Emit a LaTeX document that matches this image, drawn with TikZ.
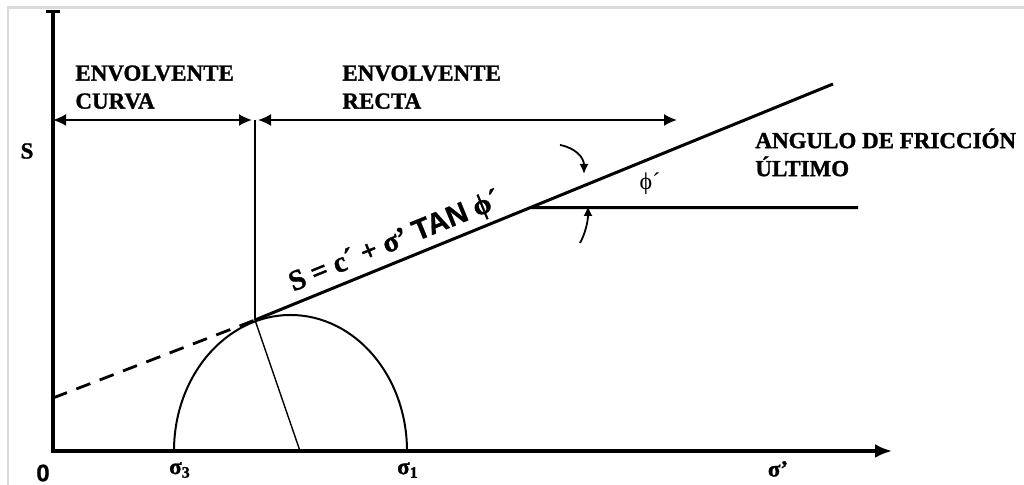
\documentclass[tikz,border=0pt]{standalone}
\usepackage{fontspec}
\setmainfont{Liberation Serif}[BoldFeatures={FakeBold=1.2}]
\setsansfont{Liberation Sans}[BoldFeatures={FakeBold=0.8}]
\usetikzlibrary{arrows.meta,positioning,calc}
\definecolor{FrameGrey}{RGB}{218,218,218}

\begin{document}
\begin{tikzpicture}[x=0.5pt,y=-0.5pt,
    lbl/.style={font=\fontsize{11.5}{14}\selectfont\bfseries,align=left,inner sep=0pt},
    axis/.style={line width=1.6pt},
    dim/.style={{Latex[length=6.5pt,width=6pt]}-{Latex[length=6.5pt,width=6pt]},line width=1pt},
    curvarr/.style={-{Latex[length=5pt,width=4.5pt]},line width=0.9pt}
  ]
  \useasboundingbox (0,0) rectangle (1024,485);
  \draw[FrameGrey,line width=1.2pt] (8,485) -- (8,7.5) -- (1024,7.5);
  % axes
  \coordinate (O) at (53,451);
  \coordinate (ytop) at (53,10);
  \coordinate (xend) at (892,451);
  \draw[axis,{Bar[width=7pt]}-{Latex[length=8.5pt,width=7pt]}] (ytop) -- (O) -- (xend);
  \node[lbl,font=\fontsize{12}{14}\selectfont\bfseries\sffamily] (zero) at (43,473) {0};
  \node[lbl] (s) at (27,151) {S};
  \node[lbl] (sg) at (778,469) {σ’};
  % Mohr circle
  \coordinate (s3) at (174,451);
  \coordinate (s1) at (407,451);
  \coordinate (T) at (255,320);
  \coordinate (rb) at (300,451);
  \draw[line width=1pt] (s3) arc[start angle=180,end angle=360,x radius=116.5,y radius=136];
  \draw[line width=0.7pt] (T) -- (rb);
  \node[lbl] (ls3) at (180,470) {σ\textsubscript{3}};
  \node[lbl] (ls1) at (408,470) {σ\textsubscript{1}};
  % envelope
  \coordinate (c0) at (53,398);
  \coordinate (Lend) at (833,84);
  \draw[line width=1.4pt,dash pattern=on 7.5pt off 5pt] (c0) -- (T);
  \draw[line width=1.5pt] (T) -- node[pos=0.255,sloped,above=2pt,inner sep=0pt,
      font=\fontsize{14.5}{16}\selectfont\bfseries] (eq)
      {S = c´ + σ’ \textsf{TAN} ϕ´} (Lend);
  \coordinate (hL) at ($(T)!0.4758!(Lend)$);
  \coordinate (hR) at (858,207.7);
  \draw[line width=1.5pt] (hL) -- (hR);
  % zones
  \coordinate (vt) at (255,120);
  \draw[line width=1.3pt] (T) -- (vt);
  \coordinate (dl) at (53,120);
  \coordinate (dm1) at (252,120);
  \coordinate (dm2) at (258,120);
  \coordinate (dr) at (677,120);
  \draw[dim] (dl) -- (dm1);
  \draw[dim] (dm2) -- (dr);
  \node[lbl,anchor=north west] (curva) at (75,65) {ENVOLVENTE\\CURVA};
  \node[lbl,anchor=north west] (recta) at (342,65) {ENVOLVENTE\\RECTA};
  % friction angle
  \coordinate (a1) at (560,145);
  \coordinate (a1t) at (584,174);
  \coordinate (a2) at (580,243);
  \coordinate (a2t) at (588,206);
  \draw[curvarr] (a1) .. controls (576,148) and (584,158) .. (a1t);
  \draw[curvarr] (a2) .. controls (585,234) and (588,222) .. (a2t);
  \node[font=\fontsize{12}{14}\selectfont,inner sep=0pt] (phi) at (650,184) {ϕ´};
  \node[lbl,anchor=north west] (ang) at (755,128) {ANGULO DE FRICCIÓN\\ÚLTIMO};
\end{tikzpicture}
\end{document}
